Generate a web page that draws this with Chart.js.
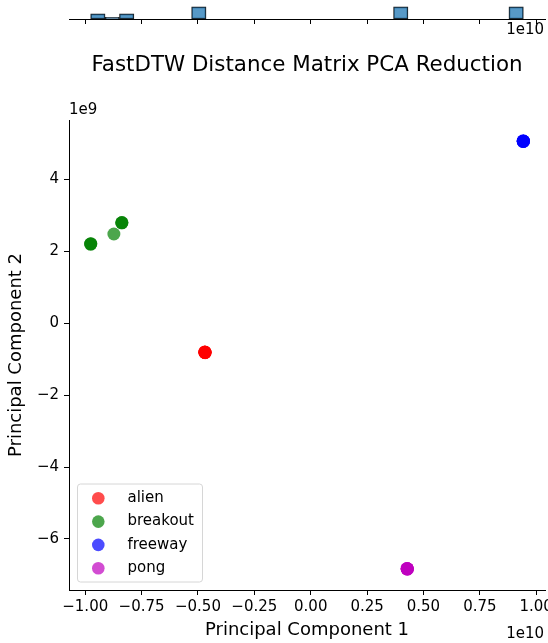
<!DOCTYPE html>
<html>
<head>
<meta charset="utf-8">
<script src="https://cdn.jsdelivr.net/npm/chart.js@4.4.0/dist/chart.umd.min.js"></script>
<style>
  html, body { margin: 0; background: #fff; overflow: hidden; }
  #wrap { position: relative; width: 548px; height: 643px; overflow: hidden; }
  canvas { position: absolute; left: 0; top: 0; }
</style>
</head>
<body>
<div id="wrap">
  <canvas id="scatter" width="600" height="643"></canvas>
  <canvas id="hist" width="600" height="45"></canvas>
</div>
<script>
// PCA points (several runs per game sit on top of each other)
const games = ["alien", "breakout", "freeway", "pong"];
const alienPC1 = [-4.69e9, -4.69e9, -4.70e9, -4.69e9, -4.68e9, -4.69e9, -4.69e9];
const alienPC2 = [-0.81e9, -0.81e9, -0.80e9, -0.81e9, -0.82e9, -0.81e9, -0.81e9];
const breakoutPC1 = [-9.76e9, -9.76e9, -9.75e9, -8.73e9, -8.38e9, -8.38e9, -8.37e9];
const breakoutPC2 = [2.20e9, 2.20e9, 2.21e9, 2.48e9, 2.79e9, 2.79e9, 2.80e9];
const freewayPC1 = [9.43e9, 9.43e9, 9.42e9, 9.43e9, 9.43e9, 9.42e9, 9.43e9];
const freewayPC2 = [5.06e9, 5.06e9, 5.07e9, 5.06e9, 5.06e9, 5.05e9, 5.06e9];
const pongPC1 = [4.28e9, 4.28e9, 4.27e9, 4.28e9, 4.28e9, 4.29e9, 4.28e9];
const pongPC2 = [-6.83e9, -6.83e9, -6.82e9, -6.83e9, -6.83e9, -6.84e9, -6.83e9];

const xTicks = [-1e10, -0.75e10, -0.5e10, -0.25e10, 0, 0.25e10, 0.5e10, 0.75e10, 1e10];
const xTickLabels = ["\u22121.00", "\u22120.75", "\u22120.50", "\u22120.25", "0.00", "0.25", "0.50", "0.75", "1.00"];
const yTicks = [-6e9, -4e9, -2e9, 0, 2e9, 4e9];
const yTickLabels = ["\u22126", "\u22124", "\u22122", "0", "2", "4"];
const nBins = 30;

const gameColors = ["rgba(255,0,0,0.7)", "rgba(0,128,0,0.7)", "rgba(0,0,255,0.7)", "rgba(191,0,191,0.7)"];
const FONT = "DejaVu Sans";
Chart.defaults.font.family = FONT;
Chart.defaults.color = "#000";

const pc1 = [alienPC1, breakoutPC1, freewayPC1, pongPC1];
const pc2 = [alienPC2, breakoutPC2, freewayPC2, pongPC2];

// histogram of PC1 for the strip on top
const allX = [].concat(...pc1);
const xMinData = Math.min(...allX), xMaxData = Math.max(...allX);
const binW = (xMaxData - xMinData) / nBins;
const counts = new Array(nBins).fill(0);
allX.forEach(v => {
  let k = Math.floor((v - xMinData) / binW);
  if (k >= nBins) k = nBins - 1;
  counts[k]++;
});
const histData = [];
counts.forEach((c, k) => {
  if (c > 0) histData.push({ x: xMinData + binW * (k + 0.5), y: c });
});

const X_MIN = -1.072e10, X_MAX = 1.039e10;
// canvas is wider than the window so the right edge gets cropped like the original
const RIGHT_PAD = 55;

function setTicks(vals) {
  return function (scale) { scale.ticks = vals.map(v => ({ value: v })); };
}

const scatterExtras = {
  id: "scatterExtras",
  afterDraw(chart) {
    const ctx = chart.ctx;
    ctx.save();
    ctx.fillStyle = "#000";
    ctx.font = "21.4px " + FONT;
    ctx.textAlign = "center";
    ctx.textBaseline = "middle";
    ctx.fillText("FastDTW Distance Matrix PCA Reduction", 307, 65);

    ctx.font = "15px " + FONT;
    ctx.textAlign = "left";
    ctx.fillText("1e9", 69, 110);
    ctx.textAlign = "right";
    ctx.fillText("1e10", 544, 634);

    // legend
    const lx = 77.5, ly = 484, lw = 125, lh = 98;
    ctx.beginPath();
    ctx.roundRect(lx, ly, lw, lh, 3);
    ctx.fillStyle = "rgba(255,255,255,0.8)";
    ctx.fill();
    ctx.strokeStyle = "#d6d6d6";
    ctx.lineWidth = 1;
    ctx.stroke();
    ctx.textAlign = "left";
    games.forEach((g, i) => {
      const y = 498.3 + i * 23.3;
      ctx.beginPath();
      ctx.arc(98.3, y, 6.3, 0, Math.PI * 2);
      ctx.fillStyle = gameColors[i];
      ctx.fill();
      ctx.fillStyle = "#000";
      ctx.fillText(g, 127.5, y);
    });
    ctx.restore();
  }
};

new Chart(document.getElementById("scatter"), {
  type: "scatter",
  data: {
    datasets: games.map((g, i) => ({
      label: g,
      data: pc1[i].map((x, j) => ({ x: x, y: pc2[i][j] })),
      backgroundColor: gameColors[i],
      borderWidth: 0,
      pointRadius: 6.5,
      pointHoverRadius: 6.5
    }))
  },
  options: {
    responsive: false,
    animation: false,
    events: [],
    layout: { padding: { top: 120, right: RIGHT_PAD, left: 0, bottom: 0 } },
    plugins: { legend: { display: false }, tooltip: { enabled: false } },
    scales: {
      x: {
        type: "linear",
        min: X_MIN,
        max: X_MAX,
        afterBuildTicks: setTicks(xTicks),
        afterFit(scale) { scale.height = 53; },
        border: { display: true, color: "#000", width: 1 },
        grid: { display: true, drawOnChartArea: false, drawTicks: true, tickLength: 5, tickColor: "#000" },
        ticks: {
          autoSkip: false, maxRotation: 0, padding: 3,
          font: { size: 15 },
          callback: (v, i) => xTickLabels[i]
        },
        title: { display: true, text: "Principal Component 1", font: { size: 18 }, padding: { top: 0, bottom: 2 } }
      },
      y: {
        type: "linear",
        min: -7.42e9,
        max: 5.65e9,
        afterBuildTicks: setTicks(yTicks),
        afterFit(scale) { scale.width = 69; },
        border: { display: true, color: "#000", width: 1 },
        grid: { display: true, drawOnChartArea: false, drawTicks: true, tickLength: 5, tickColor: "#000" },
        ticks: {
          autoSkip: false, padding: 5,
          font: { size: 15 },
          callback: (v, i) => yTickLabels[i]
        },
        title: { display: true, text: "Principal Component 2", font: { size: 18 }, padding: { top: 6, bottom: 0 } }
      }
    }
  },
  plugins: [scatterExtras]
});

const histExtras = {
  id: "histExtras",
  afterDraw(chart) {
    const ctx = chart.ctx;
    ctx.save();
    ctx.fillStyle = "#000";
    ctx.font = "15px " + FONT;
    ctx.textAlign = "right";
    ctx.textBaseline = "middle";
    ctx.fillText("1e10", 544, 30.5);
    ctx.restore();
  }
};

new Chart(document.getElementById("hist"), {
  type: "bar",
  data: {
    datasets: [{
      data: histData,
      backgroundColor: "rgba(31,119,180,0.75)",
      borderColor: "#1a1a1a",
      borderWidth: 1,
      borderSkipped: false,
      barPercentage: 1,
      categoryPercentage: 1
    }]
  },
  options: {
    responsive: false,
    animation: false,
    events: [],
    layout: { padding: { top: 0, right: RIGHT_PAD, left: 69, bottom: 0 } },
    plugins: { legend: { display: false }, tooltip: { enabled: false } },
    scales: {
      x: {
        type: "linear",
        offset: false,
        min: X_MIN,
        max: X_MAX,
        afterBuildTicks: setTicks(xTicks),
        afterFit(scale) { scale.height = 26; },
        border: { display: true, color: "#000", width: 1 },
        grid: { display: true, drawOnChartArea: false, drawTicks: true, tickLength: 5, tickColor: "#000", offset: false },
        ticks: { display: false }
      },
      y: { display: false, min: 0, max: 11 }
    }
  },
  plugins: [histExtras]
});
</script>
</body>
</html>
